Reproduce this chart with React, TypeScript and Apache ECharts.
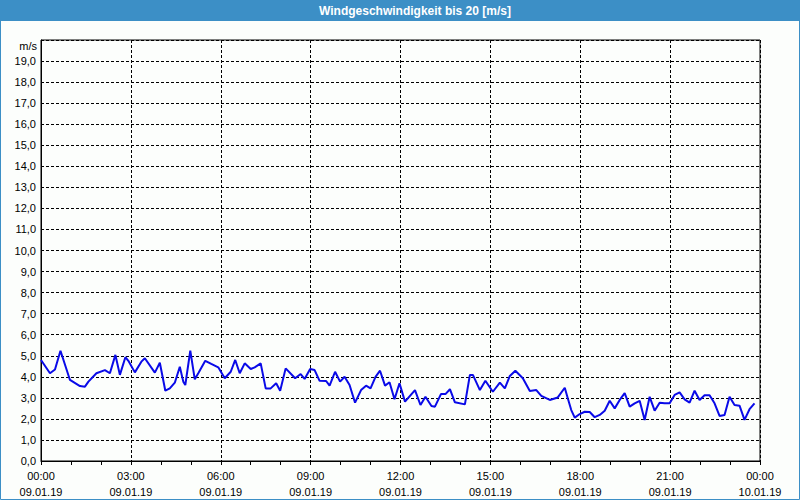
import React, { useEffect, useRef } from "react";
import * as echarts from "echarts";

// minutes since 09.01.19 00:00
const minutes = [
  0, 18, 28, 39, 58, 78, 88, 95, 111, 128, 138, 149, 158, 169, 175, 188, 201, 208, 228, 238,
  249, 258, 268, 278, 285, 289, 299, 308, 315, 329, 341, 355, 368, 380, 389, 398, 408, 420, 428, 440,
  450, 460, 471, 479, 490, 509, 520, 528, 539, 548, 558, 571, 578, 589, 599, 608, 618, 629, 641, 651,
  660, 670, 679, 689, 698, 708, 718, 729, 749, 760, 770, 782, 789, 801, 810, 819, 829, 849, 859, 865,
  879, 890, 905, 919, 929, 939, 950, 965, 979, 992, 1002, 1019, 1035, 1049, 1055, 1062, 1069, 1079, 1089, 1099,
  1109, 1119, 1129, 1139, 1149, 1159, 1169, 1179, 1189, 1199, 1209, 1219, 1229, 1239, 1249, 1259, 1269, 1279, 1289, 1299,
  1309, 1319, 1329, 1339, 1349, 1359, 1369, 1379, 1389, 1399, 1409, 1419, 1429,
];
const windSpeed = [
  4.8, 4.17, 4.35, 5.24, 3.85, 3.56, 3.53, 3.77, 4.17, 4.32, 4.17, 5.04, 4.09, 4.93, 4.76, 4.21, 4.72, 4.88, 4.2, 4.67,
  3.34, 3.45, 3.72, 4.48, 3.77, 3.61, 5.24, 3.88, 4.17, 4.76, 4.61, 4.45, 3.93, 4.24, 4.8, 4.17, 4.64, 4.37, 4.45, 4.64,
  3.45, 3.45, 3.69, 3.34, 4.4, 3.93, 4.13, 3.9, 4.37, 4.32, 3.81, 3.8, 3.58, 4.24, 3.77, 4.0, 3.61, 2.77, 3.37, 3.58,
  3.45, 4.0, 4.29, 3.58, 3.74, 2.93, 3.69, 2.82, 3.37, 2.66, 3.05, 2.61, 2.58, 3.18, 3.18, 3.41, 2.79, 2.69, 4.09, 4.09,
  3.37, 3.81, 3.29, 3.72, 3.45, 4.04, 4.29, 3.93, 3.33, 3.37, 3.09, 2.9, 3.02, 3.48, 2.98, 2.42, 2.06, 2.23, 2.34, 2.33,
  2.08, 2.19, 2.39, 2.86, 2.5, 2.9, 3.22, 2.58, 2.74, 2.86, 1.95, 3.05, 2.39, 2.77, 2.74, 2.74, 3.14, 3.26, 2.93, 2.77,
  3.34, 2.9, 3.12, 3.12, 2.74, 2.14, 2.19, 3.05, 2.66, 2.63, 1.95, 2.46, 2.74,
];
const timeLabels = ["00:00", "03:00", "06:00", "09:00", "12:00", "15:00", "18:00", "21:00", "00:00"];
const dateLabels = ["09.01.19", "09.01.19", "09.01.19", "09.01.19", "09.01.19", "09.01.19", "09.01.19", "09.01.19", "10.01.19"];
const titleText = "Windgeschwindigkeit bis 20 [m/s]";
const unitText = "m/s";

const BLUE = "#3c8fc6";
const FONT = "Liberation Sans";

export default function App() {
  const ref = useRef<HTMLDivElement>(null);
  useEffect(() => {
    if (!ref.current) return;
    const chart = echarts.init(ref.current, null, { renderer: "svg" });
    chart.setOption({
      animation: false,
      backgroundColor: "#fcfefc",
      grid: {
        left: 41,
        right: 40,
        top: 40,
        bottom: 39,
        show: true,
        borderColor: "#000",
        borderWidth: 1,
        backgroundColor: "transparent",
      },
      graphic: [
        { type: "rect", shape: { x: 0, y: 0, width: 800, height: 21 }, style: { fill: BLUE } },
        {
          type: "rect",
          shape: { x: 0.5, y: 0.5, width: 799, height: 499 },
          style: { fill: "none", stroke: BLUE, lineWidth: 1 },
        },
        {
          type: "text",
          x: 415,
          y: 11,
          style: {
            text: titleText,
            fill: "#fff",
            font: `bold 12px "${FONT}"`,
            align: "center",
            verticalAlign: "middle",
          },
        },
        {
          type: "text",
          x: 37,
          y: 46,
          style: {
            text: unitText,
            fill: "#000",
            font: `11px "${FONT}"`,
            align: "right",
            verticalAlign: "middle",
          },
        },
      ],
      xAxis: {
        type: "value",
        min: 0,
        max: 1440,
        interval: 180,
        axisLine: { show: true, lineStyle: { color: "#000", width: 1 } },
        axisTick: { show: true, length: 4, lineStyle: { color: "#000" } },
        minorTick: { show: true, splitNumber: 3, length: 4, lineStyle: { color: "#000" } },
        splitLine: { show: true, lineStyle: { color: "#000", type: [3, 2], width: 1 } },
        axisLabel: {
          color: "#000",
          fontFamily: FONT,
          fontSize: 11,
          lineHeight: 16,
          margin: 7,
          formatter: (v: number) => {
            const i = Math.round(v / 180);
            return `${timeLabels[i]}\n${dateLabels[i]}`;
          },
        },
      },
      yAxis: {
        type: "value",
        min: 0,
        max: 20,
        interval: 1,
        axisLine: { show: true, lineStyle: { color: "#000", width: 1 } },
        axisTick: { show: false },
        splitLine: { show: true, lineStyle: { color: "#000", type: [3, 2], width: 1 } },
        axisLabel: {
          color: "#000",
          fontFamily: FONT,
          fontSize: 11,
          margin: 5,
          formatter: (v: number) => (v >= 20 ? "" : v.toFixed(1).replace(".", ",")),
        },
      },
      series: [
        {
          type: "line",
          data: minutes.map((m, i) => [m, windSpeed[i]]),
          showSymbol: false,
          lineStyle: { color: "#0a0ae8", width: 2 },
          z: 5,
        },
      ],
    });
    return () => chart.dispose();
  }, []);
  return (
    <div style={{ position: "fixed", left: 0, top: 0, width: 800, height: 500 }}>
      <div ref={ref} style={{ width: 800, height: 500 }} />
    </div>
  );
}
